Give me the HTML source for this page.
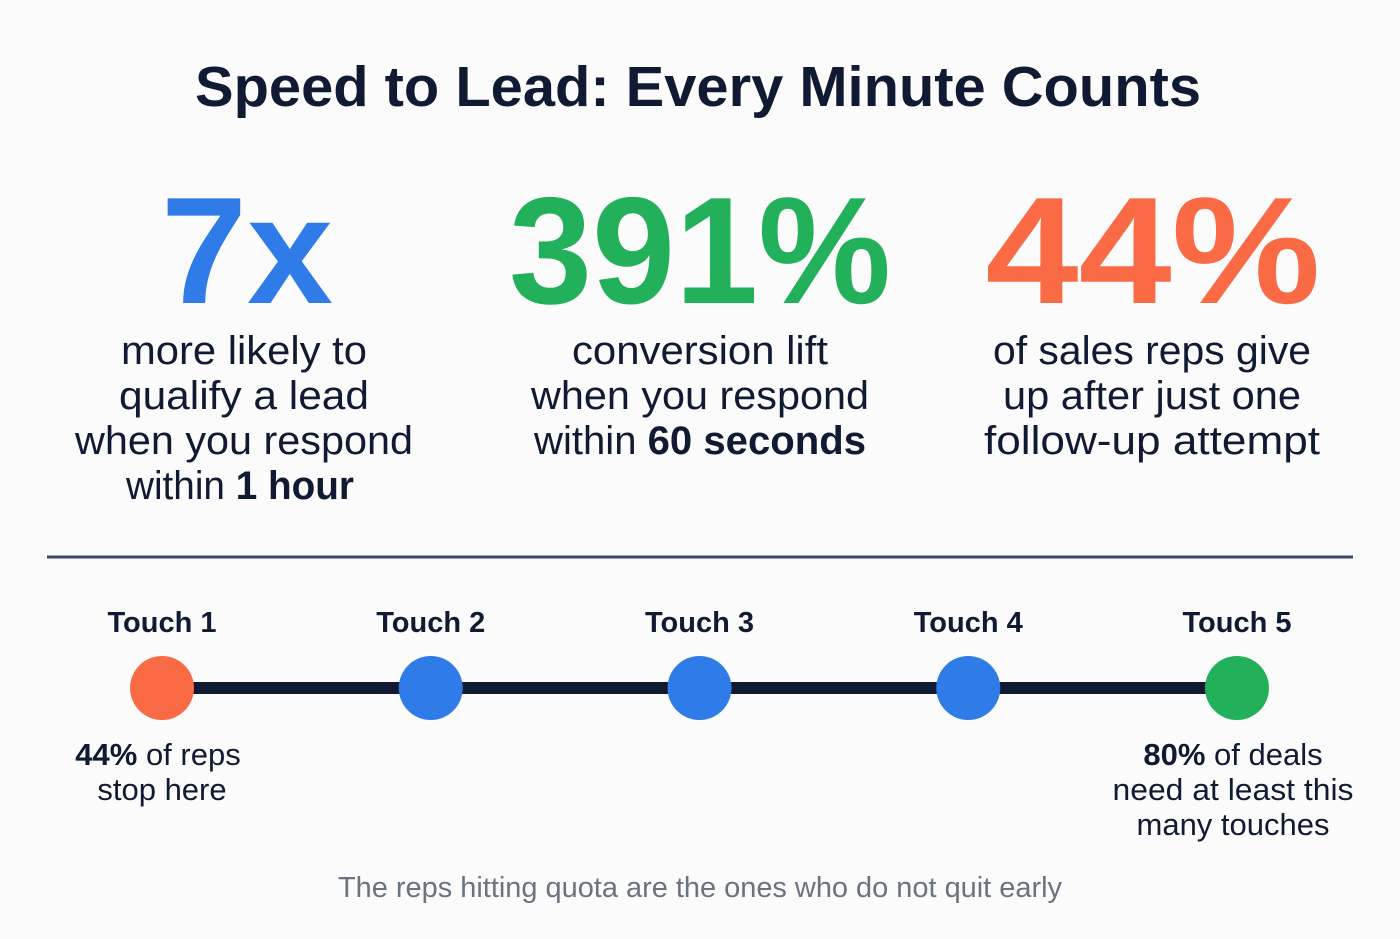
<!DOCTYPE html>
<html><head><meta charset="utf-8"><style>
html,body{margin:0;padding:0;background:#fbfbfb}
svg{display:block}
text{font-family:"Liberation Sans",sans-serif}
</style></head><body>
<svg width="1400" height="939" viewBox="0 0 1400 939" xmlns="http://www.w3.org/2000/svg">
<rect width="1400" height="939" fill="#fbfbfb"/>
<text x="698" y="106" text-anchor="middle" font-size="57" font-weight="bold" fill="#111a33" textLength="1006" lengthAdjust="spacingAndGlyphs">Speed to Lead: Every Minute Counts</text>

<g text-anchor="middle">
<text x="247" y="303" font-size="152" font-weight="bold" fill="#2f7be8" textLength="172" lengthAdjust="spacingAndGlyphs">7x</text>
<g font-size="40" fill="#111a33">
<text x="244" y="364" textLength="246" lengthAdjust="spacingAndGlyphs">more likely to</text>
<text x="244" y="409" textLength="250" lengthAdjust="spacingAndGlyphs">qualify a lead</text>
<text x="244" y="454" textLength="338" lengthAdjust="spacingAndGlyphs">when you respond</text>
<text x="240" y="499" textLength="228" lengthAdjust="spacingAndGlyphs">within <tspan font-weight="bold">1 hour</tspan></text>
</g></g>

<g text-anchor="middle">
<text x="700" y="303" font-size="152" font-weight="bold" fill="#22b05a" textLength="382" lengthAdjust="spacingAndGlyphs">391%</text>
<g font-size="40" fill="#111a33">
<text x="700" y="364" textLength="256" lengthAdjust="spacingAndGlyphs">conversion lift</text>
<text x="700" y="409" textLength="338" lengthAdjust="spacingAndGlyphs">when you respond</text>
<text x="700" y="454" textLength="332" lengthAdjust="spacingAndGlyphs">within <tspan font-weight="bold">60 seconds</tspan></text>
</g></g>

<g text-anchor="middle">
<text x="1153" y="303" font-size="152" font-weight="bold" fill="#f96a45" textLength="335" lengthAdjust="spacingAndGlyphs">44%</text>
<g font-size="40" fill="#111a33">
<text x="1152" y="364" textLength="318" lengthAdjust="spacingAndGlyphs">of sales reps give</text>
<text x="1152" y="409" textLength="298" lengthAdjust="spacingAndGlyphs">up after just one</text>
<text x="1152" y="454" textLength="336" lengthAdjust="spacingAndGlyphs">follow-up attempt</text>
</g></g>

<line x1="47" y1="557" x2="1353" y2="557" stroke="#3a4a63" stroke-width="3"/>

<g id="timeline"></g>

<g text-anchor="middle" font-size="31" fill="#111a33">
<text x="158" y="765"><tspan font-weight="bold">44%</tspan> of reps</text>
<text x="162" y="800">stop here</text>
</g>
<g text-anchor="middle" font-size="31" fill="#111a33">
<text x="1233" y="765"><tspan font-weight="bold">80%</tspan> of deals</text>
<text x="1233" y="800" textLength="241" lengthAdjust="spacingAndGlyphs">need at least this</text>
<text x="1233" y="835">many touches</text>
</g>
<text x="700" y="897" text-anchor="middle" font-size="29" fill="#6b7280" textLength="724" lengthAdjust="spacingAndGlyphs">The reps hitting quota are the ones who do not quit early</text>
</svg>
<script>
const touchLabels=["Touch 1","Touch 2","Touch 3","Touch 4","Touch 5"];
const touchColors=["#f96a45","#2f7be8","#2f7be8","#2f7be8","#22b05a"];
const NS="http://www.w3.org/2000/svg";
const g=document.getElementById('timeline');
const x0=162,x1=1237,cy=688;
const xs=i=>x0+(x1-x0)*i/(touchLabels.length-1);
const ln=document.createElementNS(NS,'line');


ln.setAttribute('x1',xs(0));ln.setAttribute('x2',xs(touchLabels.length-1));
ln.setAttribute('y1',cy);ln.setAttribute('y2',cy);
ln.setAttribute('stroke','#111a33');ln.setAttribute('stroke-width','12');
g.appendChild(ln);
touchLabels.forEach((t,i)=>{
 const c=document.createElementNS(NS,'circle');
 
 
 c.setAttribute('cx',xs(i));c.setAttribute('cy',cy);c.setAttribute('r',32);
 c.setAttribute('fill',touchColors[i]);
 g.appendChild(c);
 const tx=document.createElementNS(NS,'text');
 
 
 tx.setAttribute('x',xs(i));tx.setAttribute('y',632);
 tx.setAttribute('text-anchor','middle');tx.setAttribute('font-size','29');
 tx.setAttribute('font-weight','bold');tx.setAttribute('fill','#111a33');
 tx.textContent=t;
 g.appendChild(tx);
});
</script>
</body></html>
